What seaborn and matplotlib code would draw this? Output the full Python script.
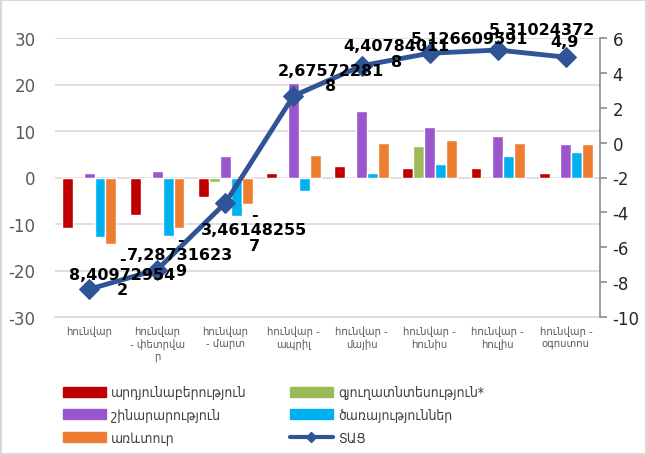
import numpy as np
import pandas as pd
import matplotlib
matplotlib.use("Agg")
import matplotlib.pyplot as plt
import seaborn as sns
from matplotlib.patches import Patch, Rectangle
from matplotlib.lines import Line2D

# ---------------- data ----------------
periods = ["հունվար", "հունվար\n- փետրվա\nր", "հունվար\n- մարտ", "հունվար -\nապրիլ",
           "հունվար -\nմայիս", "հունվար -\nհունիս", "հունվար -\nհուլիս", "հունվար -\nօգոստոս"]
industry = [-10.9, -8.1, -4.1, 1.0, 2.4, 2.1, 2.1, 1.0]
agriculture = [0.0, 0.0, -0.9, 0.0, 0.0, 6.7, 0.0, 0.0]
construction = [1.0, 1.3, 4.7, 20.4, 14.4, 10.9, 8.9, 7.3]
services = [-12.7, -12.6, -8.2, -2.9, 1.0, 2.9, 4.6, 5.4]
trade = [-14.4, -10.9, -5.7, 4.9, 7.5, 8.0, 7.5, 7.2]
tac = [-8.409729542, -7.287316239, -3.461482557, 2.675722818, 4.407840118,
       5.126609591, 5.31024372, 4.9]
tac_labels = ["-\n8,40972954\n2", "-\n7,28731623\n9", "-\n3,46148255\n7", "2,67572281\n8",
              "4,40784011\n8", "5,126609591", "5,31024372", "4,9"]

series_names = ["արդյունաբերություն", "գյուղատնտեսություն*", "շինարարություն",
                "ծառայություններ", "առևտուր"]
line_name = "ՏԱՑ"
colors = ["#C00000", "#9BBB59", "#9A57CD", "#00B0F0", "#ED7D31"]
line_color = "#2F5597"

# ---------------- build frame ----------------
rows = []
for name, vals in zip(series_names, [industry, agriculture, construction, services, trade]):
    for p, v in zip(periods, vals):
        rows.append({"period": p, "series": name, "value": v})
df = pd.DataFrame(rows)

sns.set_theme(style="white")
plt.rcParams["font.family"] = ["DejaVu Sans"]
plt.rcParams["axes.unicode_minus"] = False

fig = plt.figure(figsize=(6.47, 4.56), dpi=100)
ax = fig.add_axes([55 / 647, 1 - 318 / 456, (600 - 55) / 647, (318 - 39) / 456])

sns.barplot(data=df, x="period", y="value", hue="series", order=periods,
            hue_order=series_names, palette=colors, width=0.8, ax=ax,
            legend=False, errorbar=None, saturation=1)

ax.set_ylim(-30, 30)
ax.set_yticks([-30, -20, -10, 0, 10, 20, 30])
ax.yaxis.grid(True, color="#D9D9D9", linewidth=1.2)
ax.set_axisbelow(True)
for s in ["left", "right", "top"]:
    ax.spines[s].set_visible(False)
ax.spines["bottom"].set_color("#D9D9D9")
ax.spines["bottom"].set_linewidth(1.2)
ax.set_xlabel("")
ax.set_ylabel("")
ax.tick_params(axis="y", labelsize=12, labelcolor="#595959", length=0, pad=14)
ax.tick_params(axis="x", labelsize=8, labelcolor="#595959", length=0, pad=6)
for lab in ax.get_xticklabels():
    lab.set_fontstretch("condensed")
ax.set_xlim(-0.5, len(periods) - 0.5)

ax2 = ax.twinx()
xpos = np.arange(len(periods))
sns.lineplot(x=xpos, y=tac, ax=ax2, color=line_color, linewidth=3.5,
             marker="D", markersize=10.5, markeredgecolor=line_color, legend=False)
ax2.set_ylim(-10, 6)
ax2.set_yticks(np.arange(-10, 7, 2))
for s in ["left", "top", "bottom"]:
    ax2.spines[s].set_visible(False)
ax2.spines["right"].set_color("#8C8C8C")
ax2.spines["right"].set_linewidth(1.2)
ax2.tick_params(axis="y", labelsize=12, labelcolor="#262626", color="#8C8C8C",
                length=5, width=1.2, direction="out", pad=4)
ax2.set_xlim(-0.5, len(periods) - 0.5)

offsets = [(33, 15), (23, 15), (29, -27), (37, 18), (35, 12), (40, 15), (44, 21), (-1, 16)]
for x, y, t, (dx, dy) in zip(xpos, tac, tac_labels, offsets):
    ax2.annotate(t, (x, y), xytext=(dx, dy), textcoords="offset pixels",
                 ha="center", va="center", multialignment="center",
                 fontsize=11.5, fontweight="bold", color="black",
                 linespacing=1.05)

handles = [Patch(color=colors[0]), Patch(color=colors[2]), Patch(color=colors[4]),
           Patch(color=colors[1]), Patch(color=colors[3]),
           Line2D([0], [0], color=line_color, linewidth=3, marker="D", markersize=5)]
labels = [series_names[0], series_names[2], series_names[4],
          series_names[1], series_names[3], line_name]
leg = fig.legend(handles, labels, ncol=2, loc="upper left",
                 bbox_to_anchor=(50 / 647, 1 - 374 / 456), frameon=False,
                 prop={"size": 10, "stretch": "condensed"},
                 handlelength=3.1, handleheight=0.75, handletextpad=0.4,
                 columnspacing=3.1, labelspacing=0.62, labelcolor="#404040")

fig.patches.append(Rectangle((0.002, 0.002), 0.996, 0.996, transform=fig.transFigure,
                             fill=False, edgecolor="#D9D9D9", linewidth=1.5))

fig.savefig("out.png", dpi=100)
